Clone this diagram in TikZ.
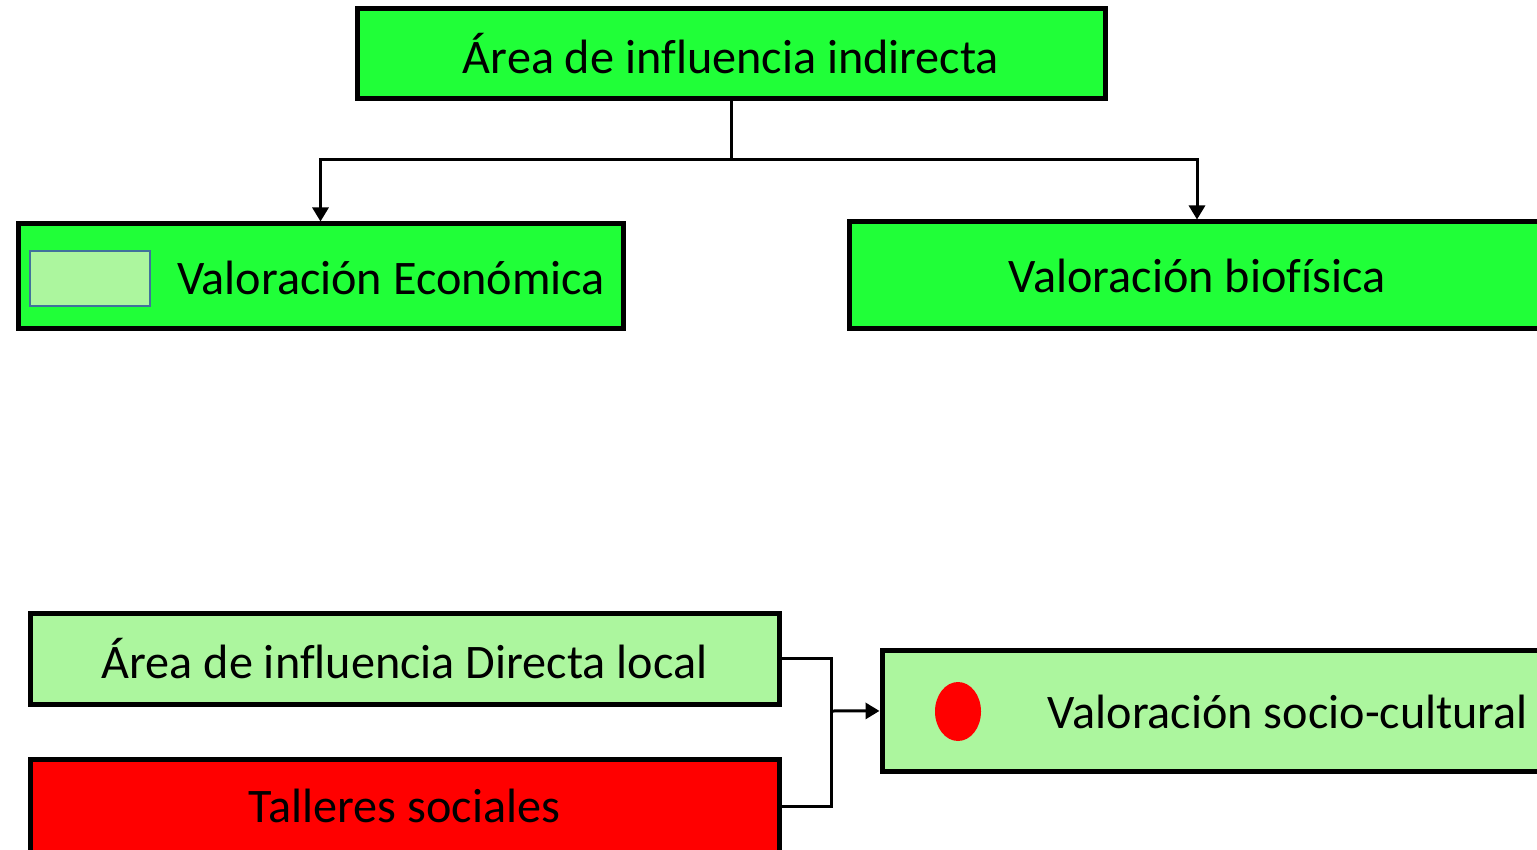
\documentclass[tikz,border=0pt]{standalone}
\usepackage{fontspec}
\setmainfont{Carlito}[Ligatures=NoCommon]
\usetikzlibrary{arrows.meta,shapes.geometric}
\definecolor{vivo}{RGB}{32,255,56}
\definecolor{claro}{RGB}{172,246,158}
\definecolor{borde}{RGB}{65,113,156}
\tikzset{
	caja/.style={draw=black, line width=2.5pt, inner sep=0pt, font=\fontsize{24.1}{29}\selectfont},
	texto/.style={inner sep=0pt, font=\fontsize{24.1}{29}\selectfont},
	linea/.style={line width=1.5pt},
	flecha/.style={line width=1.5pt, -{Triangle[length=7pt,width=8pt]}}
}

\begin{document}
\begin{tikzpicture}[x=0.5pt, y=-0.5pt]
			%%%%% START %%%%%
			
			\useasboundingbox (0, 0) rectangle (1537, 850);
			\clip (0, 0) rectangle (1537, 850);
			
			\node[caja, fill=vivo, minimum width=374pt, minimum height=45pt] (indirecta) at (731, 54) {Área de influencia indirecta};
			
			\node[caja, fill=vivo, minimum width=302.5pt, minimum height=52.5pt] (economica) at (320.5, 276.5) {};
			\node[draw=borde, line width=1pt, fill=claro, minimum width=60pt, minimum height=27.5pt, inner sep=0pt] (muestra) at (90, 278.5) {};
			\node[texto] (txteco) at (391, 278) {Valoración Económica};
			
			\node[caja, fill=vivo, minimum width=348pt, minimum height=53.5pt] (biofisica) at (1197, 275.5) {Valoración biofísica};
			
			\coordinate (reparto) at (731, 160);
			\draw[linea] (indirecta) -- (reparto);
			\draw[flecha] (reparto) -| (economica);
			\draw[flecha] (reparto) -| (biofisica);
			
			\node[caja, fill=claro, minimum width=374.5pt, minimum height=45.5pt] (directa) at (404.5, 658.5) {Área de influencia Directa local};
			\node[caja, fill=red, minimum width=374.5pt, minimum height=47pt] (talleres) at (404.5, 806) {Talleres sociales};
			
			\node[caja, fill=claro, minimum width=339pt, minimum height=60.5pt] (socio) at (1221, 710.5) {};
			\node[ellipse, fill=red, minimum width=23pt, minimum height=29.5pt, inner sep=0pt] (punto) at (958, 711.5) {};
			\node[texto] (txtsocio) at (1288, 712) {Valoración socio-cultural};
			
			\coordinate (union) at (831, 711);
			\draw[linea] (directa.east) -| (union) |- (talleres.east);
			\draw[flecha] (union) -- (socio);
			
			%%%%% END %%%%%
		\end{tikzpicture}
\end{document}
